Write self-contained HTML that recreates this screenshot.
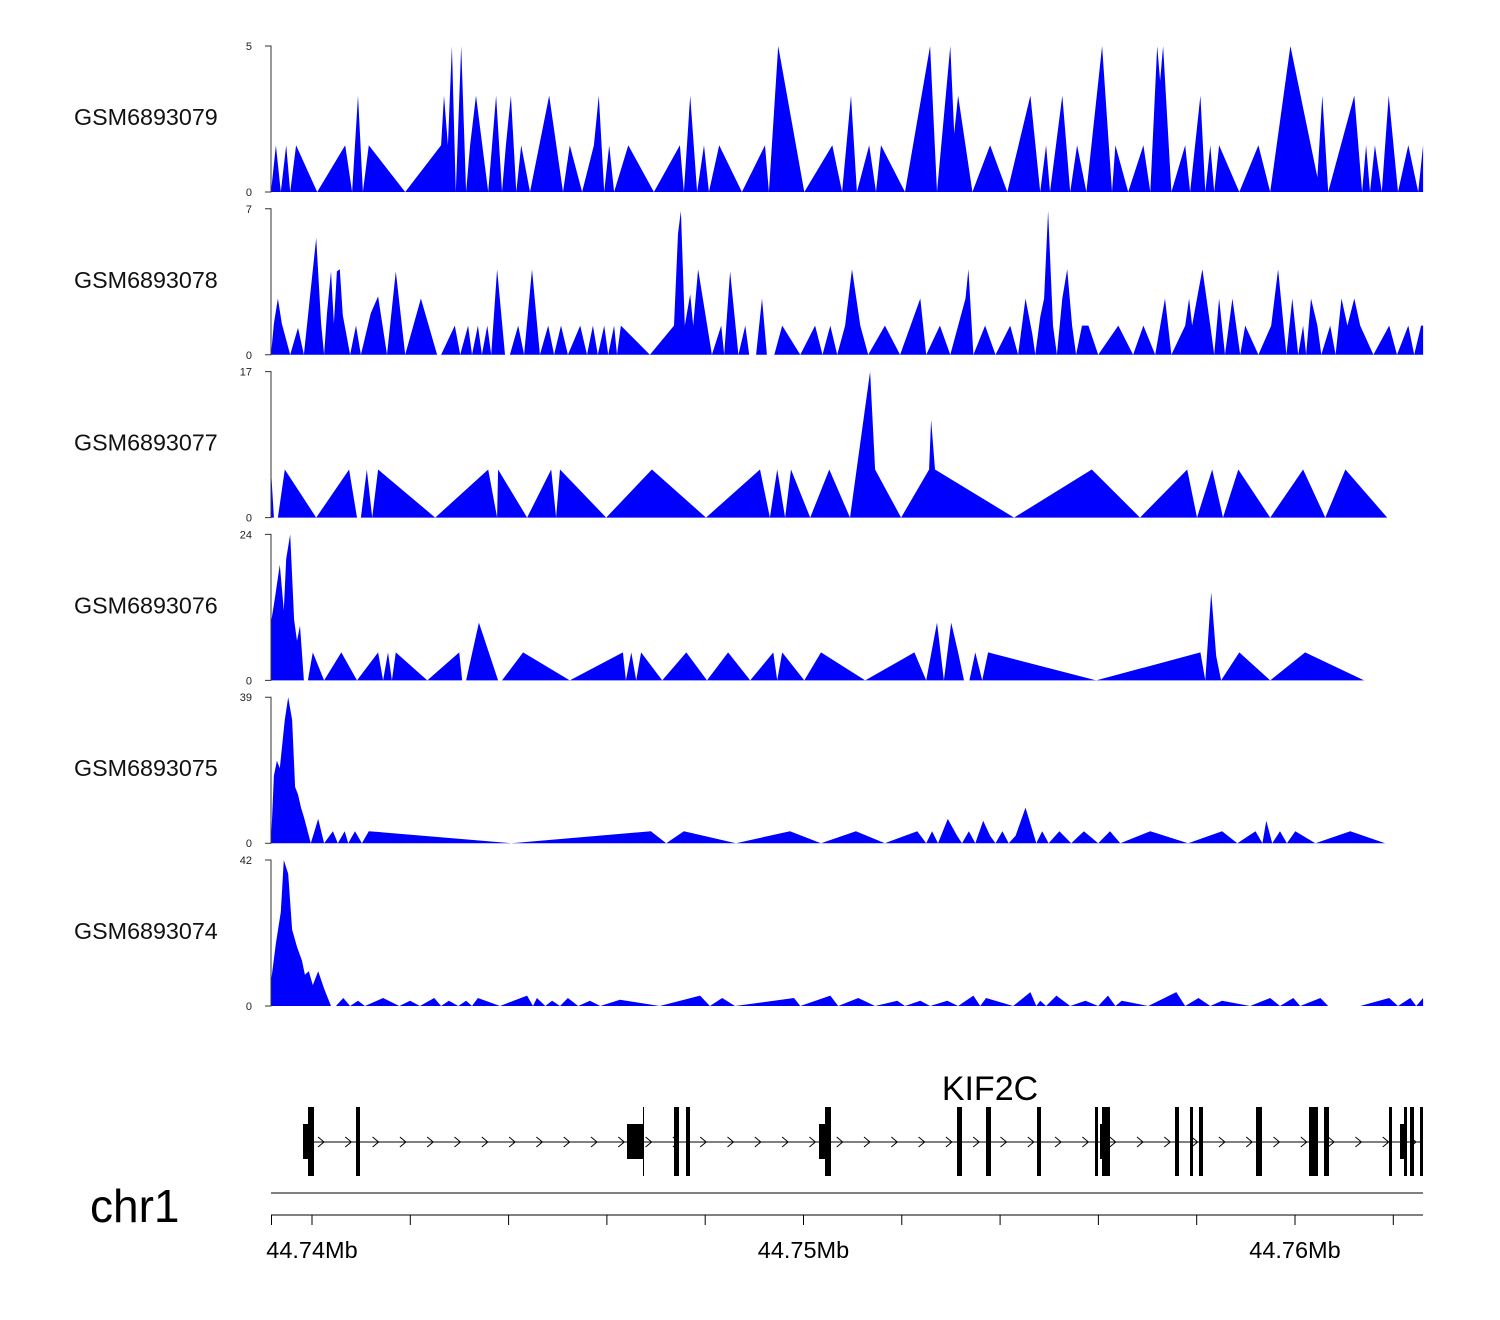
<!DOCTYPE html>
<html><head><meta charset="utf-8"><style>
html,body{margin:0;padding:0;background:#fff;}
svg{display:block;font-family:"Liberation Sans",sans-serif;}
</style></head><body>
<svg id="chart" width="1500" height="1320" viewBox="0 0 1500 1320" xmlns="http://www.w3.org/2000/svg">
<g id="tracks"></g>
<g id="gene">
  <line x1="303" y1="1142" x2="1423" y2="1142" stroke="#000" stroke-width="1"/>
  <g id="arrows"></g>
  <g id="exons"></g>
  <text x="990" y="1100" font-size="34" text-anchor="middle">KIF2C</text>
</g>
<g id="axis">
  <line x1="271" y1="1193" x2="1423" y2="1193" stroke="#000" stroke-width="1"/>
  <line x1="271" y1="1215" x2="1423" y2="1215" stroke="#000" stroke-width="1"/>
  <text x="90" y="1222" font-size="46">chr1</text>
</g>
</svg>
<script>
const regionStartKb = 44739.166;
const trackNames = ["GSM6893079","GSM6893078","GSM6893077","GSM6893076","GSM6893075","GSM6893074"];
const trackMax = [5,7,17,24,39,42];
const t1pos=[0,0.10,0.20,0.31,0.39,0.51,0.94,1.51,1.65,1.77,1.87,1.99,2.73,3.46,3.52,3.60,3.68,3.76,3.87,3.97,4.05,4.17,4.42,4.58,4.70,4.78,4.88,4.99,5.09,5.27,5.66,5.94,6.08,6.33,6.57,6.67,6.78,6.88,6.98,7.27,7.79,8.32,8.40,8.53,8.67,8.81,8.91,9.12,9.58,10.05,10.13,10.32,10.85,11.42,11.62,11.80,11.92,12.17,12.31,12.41,12.90,13.41,13.55,13.82,13.90,13.98,14.27,14.63,14.98,15.45,15.65,15.77,15.85,16.10,16.26,16.40,16.59,16.91,17.11,17.18,17.44,17.75,17.89,18.03,18.09,18.15,18.32,18.60,18.70,18.91,19.01,19.11,19.19,19.29,19.70,20.09,20.33,20.74,21.29,21.39,21.51,22.04,22.20,22.28,22.36,22.46,22.60,22.74,22.93,23.14,23.34,23.44];
const t1val=[0,1.6,0,1.6,0,1.6,0,1.6,0,3.3,0,1.6,0,1.6,3.3,1.6,5,0,5,0,1.6,3.3,0,3.3,0,1.6,3.3,0,1.6,0,3.3,0,1.6,0,1.6,3.3,0,1.6,0,1.6,0,1.6,0,3.3,0,1.6,0,1.6,0,1.6,0,5,0,1.6,0,3.3,0,1.6,0,1.6,0,5,0,5,2,3.3,0,1.6,0,3.3,0,1.6,0,3.3,0,1.6,0,5,0,1.6,0,1.6,0,5,3.8,5,0,1.6,0,3.3,0,1.6,0,1.6,0,1.6,0,5,0.5,3.3,0,3.3,0,1.6,0,1.6,0,3.3,0,1.6,0,1.6];
const t2pos=[0,0.06,0.14,0.22,0.39,0.55,0.67,0.79,0.92,1.02,1.08,1.14,1.22,1.28,1.34,1.40,1.46,1.61,1.73,1.83,2.03,2.18,2.36,2.54,2.73,3.05,3.38,3.46,3.74,3.85,4.01,4.09,4.21,4.29,4.40,4.48,4.60,4.76,4.86,5.03,5.15,5.31,5.47,5.64,5.76,5.90,6.04,6.29,6.43,6.55,6.65,6.78,6.86,6.98,7.04,7.12,7.71,8.20,8.28,8.34,8.42,8.53,8.59,8.69,8.97,9.16,9.22,9.34,9.51,9.65,9.73,9.87,9.99,10.09,10.24,10.40,10.77,11.07,11.22,11.38,11.52,11.68,11.82,11.99,12.15,12.49,12.80,13.21,13.33,13.61,13.82,14.13,14.19,14.29,14.53,14.74,15.04,15.20,15.35,15.49,15.55,15.65,15.73,15.81,15.91,15.99,16.10,16.20,16.30,16.38,16.50,16.63,16.83,17.24,17.54,17.75,17.99,18.19,18.32,18.60,18.68,18.74,18.84,18.95,19.11,19.19,19.29,19.41,19.56,19.72,19.82,20.09,20.35,20.49,20.66,20.78,20.90,21.00,21.06,21.16,21.29,21.37,21.55,21.66,21.78,21.90,22.04,22.16,22.43,22.75,22.91,23.14,23.26,23.40,23.44];
const t2val=[0,1.5,2.7,1.5,0,1.3,0,2.7,5.6,1.5,0,2,4,1.5,4,4.1,1.9,0,1.4,0,2,2.8,0,4,0,2.7,0,0,1.4,0,1.4,0,1.4,0,1.4,0,4.1,0,0,1.4,0,4.1,0,1.4,0,1.4,0,1.4,0,1.4,0,1.4,0,1.4,0,1.4,0,1.4,5.8,6.9,1.4,2.9,1.4,4.1,0,1.4,0,4,0,1.4,0,0,2.7,0,0,1.4,0,1.4,0,1.4,0,1.4,4.1,1.4,0,1.4,0,2.7,0,1.4,0,2.7,4.1,0,1.4,0,1.4,0,2.7,1,0,1.8,2.7,6.9,1.4,0,2.7,4.1,1.4,0,1.4,1.4,0,1.4,0,1.4,0,2.7,0,1.4,2.7,1.4,2.7,4.1,1.4,0,2.7,0,2.7,0,1.4,0,1.4,4.1,0,2.7,0,1.4,0,2.7,1.4,0,1.4,0,2.7,1.4,2.7,1.4,0,1.4,0,1.4,0,1.4,1.4];
const t3pos=[0,0.06,0.14,0.28,0.92,1.59,1.75,1.83,1.95,2.06,2.18,3.34,4.42,4.60,4.62,5.21,5.70,5.80,5.88,6.82,7.75,8.85,9.95,10.15,10.30,10.46,10.58,10.97,11.36,11.78,12.19,12.29,12.82,13.39,13.43,13.51,15.12,16.70,17.68,18.64,18.84,19.15,19.37,19.68,20.33,21.00,21.45,21.86,22.71];
const t3val=[5.6,0,0,5.6,0,5.6,0,0,5.6,0,5.6,0,5.6,0,5.6,0,5.6,0,5.6,0,5.6,0,5.6,0,5.6,0,5.6,0,5.6,0,17,5.6,0,5.6,11.4,5.6,0,5.6,0,5.6,0,5.6,0,5.6,0,5.6,0,5.6,0];
const t4pos=[0,0.08,0.18,0.26,0.31,0.39,0.47,0.53,0.59,0.67,0.75,0.85,1.08,1.43,1.75,2.18,2.28,2.38,2.46,2.54,3.18,3.83,3.89,3.97,4.23,4.62,4.70,5.13,6.08,7.16,7.22,7.33,7.43,7.53,7.96,8.45,8.87,9.30,9.75,10.22,10.30,10.40,10.85,11.19,12.09,13.09,13.33,13.55,13.69,13.84,13.98,14.10,14.21,14.33,14.47,14.59,16.79,18.91,19.01,19.13,19.23,19.33,19.70,20.33,21.04,22.24];
const t4val=[9.5,13.5,19,11.5,20,24,10,6.5,9,0,0,4.6,0,4.6,0,4.6,0,4.6,0,4.6,0,4.6,0,0,9.5,0,0,4.6,0,4.6,0,4.6,0,4.6,0,4.6,0,4.6,0,4.6,0,4.6,0,4.6,0,4.6,0,9.5,0,9.5,4.6,0,0,4.6,0,4.6,0,4.6,0,14.5,4,0,4.6,0,4.6,0];
const t5pos=[0,0.06,0.12,0.18,0.28,0.35,0.43,0.49,0.55,0.61,0.67,0.73,0.81,0.96,1.08,1.26,1.36,1.50,1.57,1.71,1.85,1.99,4.89,7.73,8.04,8.40,9.46,10.56,11.19,11.90,12.49,13.15,13.33,13.45,13.57,13.77,13.96,14.06,14.20,14.33,14.49,14.63,14.74,14.88,15.01,15.15,15.35,15.57,15.69,15.82,16.04,16.28,16.54,16.83,17.07,17.28,17.89,18.66,19.35,19.66,20.03,20.17,20.25,20.37,20.53,20.67,20.84,21.25,21.96,22.67];
const t5val=[0,18,22,20,33,39,33,15,13,9.5,7,4,0,6.5,0,3.2,0,3.2,0,3.2,0,3.2,0,3.2,0,3.2,0,3.2,0,3.2,0,3.2,0,3.2,0,6.5,2,0,3.2,0,6,2,0,3.2,0,2,9.5,0,3.2,0,3.2,0,3.2,0,3.2,0,3.2,0,3.2,0,3.2,0,6,0,3.2,0,3.2,0,3.2,0];
const t6pos=[0,0.10,0.20,0.26,0.35,0.43,0.53,0.63,0.69,0.77,0.85,0.96,1.08,1.22,1.32,1.47,1.61,1.77,1.91,2.28,2.61,2.83,3.03,3.32,3.46,3.62,3.81,3.97,4.09,4.21,4.66,5.21,5.33,5.41,5.58,5.72,5.88,6.04,6.25,6.49,6.70,7.10,7.91,8.73,8.93,9.18,9.44,10.64,10.77,11.38,11.54,11.95,12.29,12.74,12.90,13.21,13.41,13.76,13.98,14.29,14.43,14.55,15.10,15.45,15.57,15.65,15.77,15.98,16.26,16.57,16.83,17.03,17.18,17.31,17.85,18.42,18.60,18.87,19.11,19.35,19.92,20.33,20.53,20.80,20.94,21.35,21.51,22.16,22.75,22.93,23.18,23.30,23.44];
const t6val=[7,18,27,42,38,22,17,13,9,10,6,10,5,0,0,2.3,0,1.5,0,2.3,0,1.5,0,2.3,0,1.5,0,1.5,0,2.3,0,3,0,2.3,0,1.5,0,2.3,0,1.5,0,1.8,0,3,0,2.3,0,2.3,0,3,0,2.3,0,1.5,0,1.5,0,1.5,0,3,0,2.3,0,4,0,1.5,0,3,0,1.5,0,3,0,1.5,0,4,0,2.3,0,1.5,0,2.3,0,2.3,0,2.3,0,0,2.3,0,2.3,0,2.3];
const trackPos=[t1pos,t2pos,t3pos,t4pos,t5pos,t6pos];
const trackVal=[t1val,t2val,t3val,t4val,t5val,t6val];
const axisTicksKb=[44740,44742,44744,44746,44748,44750,44752,44754,44756,44758,44760,44762];
const axisLabelsKb=[44740,44750,44760];
const axisLabels=["44.74Mb","44.75Mb","44.76Mb"];

const NS="http://www.w3.org/2000/svg";
const X0=271, PXKB=49.15, TOP0=46, STEP=162.8, H=146;
function xOff(off){return X0+off*PXKB;}
function xKb(kb){return xOff(kb-regionStartKb);}
function mk(tag,attrs,parent){const e=document.createElementNS(NS,tag);for(const k in attrs)e.setAttribute(k,attrs[k]);parent.appendChild(e);return e;}

const tg=document.getElementById('tracks');
trackNames.forEach((name,i)=>{
  const top=TOP0+i*STEP, base=top+H;
  const yS=v=>base-v/trackMax[i]*H;
  const g=mk('g',{},tg);
  
  
  const lbl=mk('text',{x:74,y:top+79,'font-size':23.3,fill:'#111'},g);
  
  
  lbl.textContent=name;
  const pos=trackPos[i], val=trackVal[i];
  let d='M'+xOff(pos[0]).toFixed(1)+','+base;
  for(let j=0;j<pos.length;j++) d+=' L'+xOff(pos[j]).toFixed(1)+','+yS(val[j]).toFixed(1);
  d+=' L'+xOff(pos[pos.length-1]).toFixed(1)+','+base+' Z';
  const p=mk('path',{d:d,fill:'#0000ff',stroke:'none'},g);
  
  
  const ax=mk('path',{d:`M265,${top} H271 V${base} H265`,fill:'none',stroke:'#333','stroke-width':1},g);
  
  
  const t1=mk('text',{x:252,y:top+4,'font-size':11,'text-anchor':'end',fill:'#222'},g);
  
  
  t1.textContent=trackMax[i];
  const t0=mk('text',{x:252,y:base+4,'font-size':11,'text-anchor':'end',fill:'#222'},g);
  
  
  t0.textContent='0';
});

const ag=document.getElementById('arrows');
for(let x=322;x<1420;x+=27.3){
  const a=mk('path',{d:`M${x-4},1137 L${x+2},1142 L${x-4},1147`,fill:'none',stroke:'#000','stroke-width':1},ag);
  
  
}
const eg=document.getElementById('exons');
const tall=[[308,6],[356,4],[674,5],[686,4],[825,6],[957,5],[986,5],[1037,4],[1095,3],[1102,8],[1175,4],[1190,3],[1199,4],[1256,6],[1309,9],[1324,5],[1389,3],[1404,3],[1410,4],[1420,3]];
const mid=[[303,5],[627,16],[819,6],[1100,3],[1400,5]];
tall.forEach(e=>{const r=mk('rect',{x:e[0],y:1107,width:e[1],height:69,fill:'#000'},eg);});
mid.forEach(e=>{const r=mk('rect',{x:e[0],y:1124,width:e[1],height:35,fill:'#000'},eg);});
const tl=mk('line',{x1:643.5,y1:1107,x2:643.5,y2:1176,stroke:'#000','stroke-width':1},eg);



const axg=document.getElementById('axis');
const t271=mk('line',{x1:271.5,y1:1215,x2:271.5,y2:1225,stroke:'#000'},axg);


axisTicksKb.forEach(kb=>{
  const x=xKb(kb);
  const l=mk('line',{x1:x,y1:1215,x2:x,y2:1225,stroke:'#000','stroke-width':1},axg);
  
  
});
axisLabelsKb.forEach((kb,i)=>{
  const t=mk('text',{x:xKb(kb),y:1258,'font-size':23.5,'text-anchor':'middle'},axg);
  
  
  t.textContent=axisLabels[i];
});
</script>
</body></html>
